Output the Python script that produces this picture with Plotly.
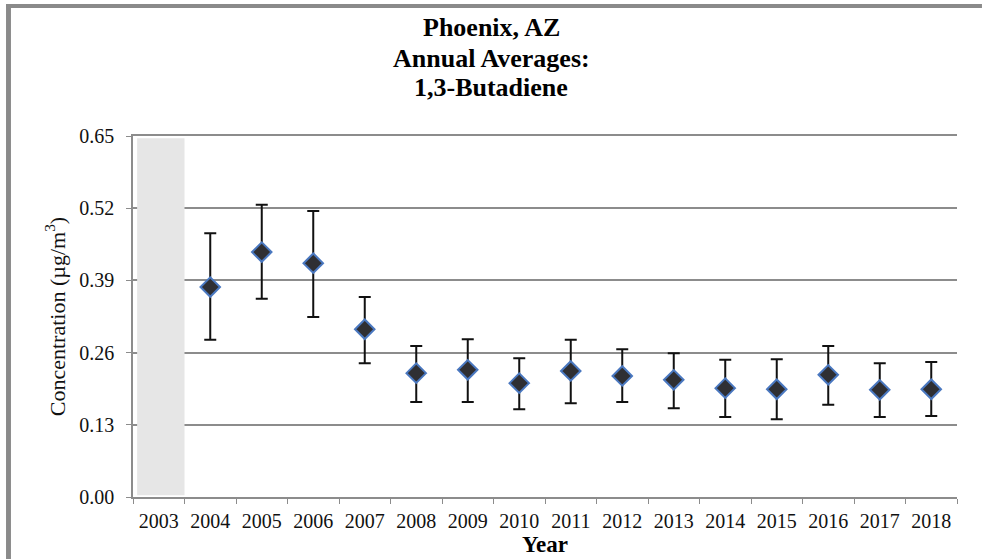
import plotly.graph_objects as go

years = [str(y) for y in range(2003, 2019)]
no_data_years = ["2003"]

data_years = [str(y) for y in range(2004, 2019)]
annual_avg = [0.378, 0.441, 0.421, 0.302, 0.223, 0.229, 0.205, 0.227,
              0.218, 0.211, 0.196, 0.194, 0.220, 0.193, 0.194]
upper_ci = [0.475, 0.526, 0.515, 0.360, 0.272, 0.284, 0.250, 0.283,
            0.266, 0.259, 0.247, 0.248, 0.272, 0.241, 0.243]
lower_ci = [0.283, 0.357, 0.324, 0.241, 0.171, 0.171, 0.158, 0.169,
            0.171, 0.160, 0.144, 0.140, 0.166, 0.144, 0.146]

y_ticks = [0.00, 0.13, 0.26, 0.39, 0.52, 0.65]
title_lines = ["Phoenix, AZ", "Annual Averages:", "1,3-Butadiene"]

err_plus = [u - v for u, v in zip(upper_ci, annual_avg)]
err_minus = [v - l for v, l in zip(annual_avg, lower_ci)]

SERIF = "Liberation Serif"
GRID = "#8c8c8c"

fig = go.Figure()

# banda cinza: ano sem dados
fig.add_trace(
    go.Bar(
        x=no_data_years,
        y=[y_ticks[-1] - 0.007] * len(no_data_years),
        base=0.003,
        width=0.92,
        offset=-0.42,
        marker=dict(color="#e6e6e6", line=dict(width=0)),
        hoverinfo="skip",
        showlegend=False,
    )
)

fig.add_trace(
    go.Scatter(
        x=data_years,
        y=annual_avg,
        mode="markers",
        marker=dict(symbol="diamond", size=15, color="#2f2f33",
                    line=dict(color="#4a78c0", width=2)),
        error_y=dict(type="data", symmetric=False, array=err_plus,
                     arrayminus=err_minus, color="#111111",
                     thickness=2, width=6),
        showlegend=False,
    )
)

# título em três linhas (centros ~28, 58, 88 px)
for i, line in enumerate(title_lines):
    fig.add_annotation(
        text=line,
        xref="paper", yref="paper",
        x=0.4345, y=(497 - (28 + 30 * i)) / 361,
        xanchor="center", yanchor="middle",
        showarrow=False,
        font=dict(size=26, family=SERIF, color="#000000", weight="bold"),
    )

fig.update_layout(
    width=982,
    height=559,
    margin=dict(l=133, r=25, t=136, b=62),
    paper_bgcolor="white",
    plot_bgcolor="white",
    font=dict(family=SERIF, color="#111111"),
    shapes=[
        # moldura cinza (topo e esquerda)
        dict(type="rect", xref="paper", yref="paper",
             x0=-0.1541, x1=1.0303, y0=1.3546, y1=1.3657,
             fillcolor="#8a8a8a", line=dict(width=0), layer="above"),
        dict(type="rect", xref="paper", yref="paper",
             x0=-0.1541, x1=-0.1481, y0=-0.1717, y1=1.3657,
             fillcolor="#8a8a8a", line=dict(width=0), layer="above"),
    ],
)

fig.update_xaxes(
    type="category",
    categoryorder="array",
    categoryarray=years,
    range=[-0.5, len(years) - 0.5],
    tickson="boundaries",
    ticks="outside",
    ticklen=5,
    tickcolor=GRID,
    ticklabelstandoff=5,
    showgrid=False,
    showline=True,
    mirror=True,  # linha de grade no topo (0.65)
    linecolor=GRID,
    linewidth=1.5,
    tickfont=dict(size=20, family=SERIF, color="#111111"),
    title=dict(text="Year",
               font=dict(size=23, family=SERIF, color="#000000", weight="bold"),
               standoff=0),
)

fig.update_yaxes(
    range=[0, 0.65],
    tickvals=y_ticks,
    ticktext=[f"{v:.2f}" for v in y_ticks],
    ticks="outside",
    ticklen=5,
    tickcolor=GRID,
    ticklabelstandoff=8,
    showgrid=True,
    gridcolor=GRID,
    gridwidth=1.5,
    zeroline=False,
    showline=True,
    linecolor=GRID,
    linewidth=1.5,
    tickfont=dict(size=20, family=SERIF, color="#111111"),
    title=dict(text="Concentration (µg/m<sup>3</sup>)",
               font=dict(size=22, family=SERIF, color="#111111"),
               standoff=8),
)

fig.write_html("out.html", config={"displayModeBar": False},
               post_script="document.body.style.margin='0';")
